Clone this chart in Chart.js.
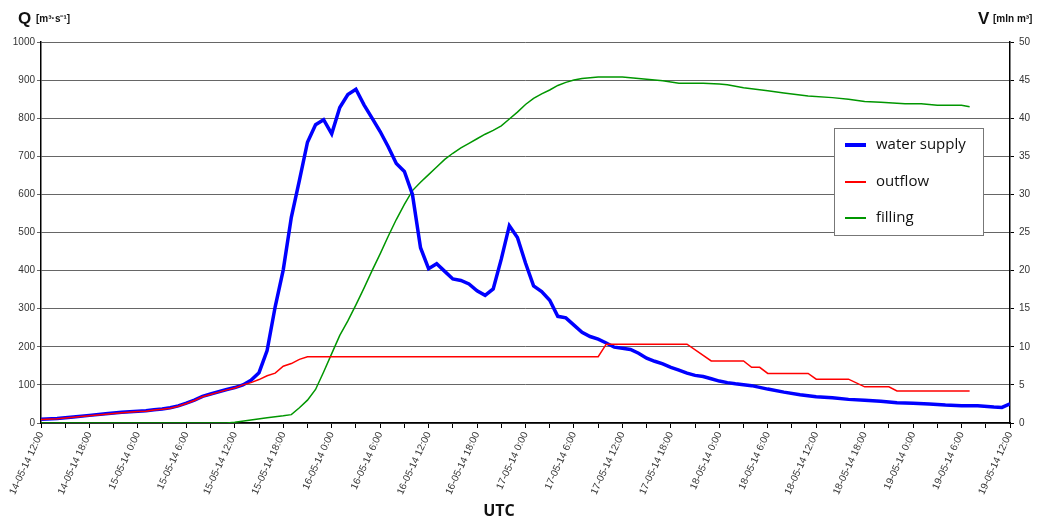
<!DOCTYPE html>
<html>
<head>
<meta charset="utf-8">
<title>Water supply, outflow and filling</title>
<script src="https://cdn.jsdelivr.net/npm/chart.js@4/dist/chart.umd.min.js"></script>
<style>
  body { margin: 0; background: #fff; }
  canvas { display: block; }
</style>
</head>
<body>
<canvas id="canvas" width="1052" height="522"></canvas>
<script>
// hours counted from 14-05-14 12:00 UTC
var tickLabels = [
  '14-05-14 12:00', '14-05-14 18:00', '15-05-14 0:00', '15-05-14 6:00',
  '15-05-14 12:00', '15-05-14 18:00', '16-05-14 0:00', '16-05-14 6:00',
  '16-05-14 12:00', '16-05-14 18:00', '17-05-14 0:00', '17-05-14 6:00',
  '17-05-14 12:00', '17-05-14 18:00', '18-05-14 0:00', '18-05-14 6:00',
  '18-05-14 12:00', '18-05-14 18:00', '19-05-14 0:00', '19-05-14 6:00',
  '19-05-14 12:00'
];

// water supply Q [m3/s]
var supplyHours = [0, 2, 4, 6, 8, 10, 12, 13, 14, 15, 16, 17, 18, 19, 20, 21, 22, 23, 24, 25, 26, 27,
  28, 29, 30, 31, 32, 33, 34, 35, 36, 37, 38, 39, 40, 41, 42, 43, 44, 45, 46, 47, 48, 49, 50,
  51, 52, 53, 54, 55, 56, 57, 58, 59, 60, 61, 62, 63, 64, 65, 66, 67, 68, 69, 70, 71, 72, 73,
  74, 75, 76, 77, 78, 79, 80, 81, 82, 83, 84, 85, 86, 88, 90, 92, 94, 96, 98, 100, 102, 104,
  106, 108, 110, 112, 114, 116, 118, 119, 120];
var supplyValues = [10, 12, 16, 20, 24, 28, 31, 32, 35, 37, 40, 45, 52, 60, 70, 76, 82, 88, 93, 100, 112, 132,
  190, 305, 402, 540, 637, 737, 783, 796, 759, 828, 862, 876, 835, 800, 765, 725, 681, 660, 600, 460, 405, 418, 398,
  378, 374, 365, 347, 335, 352, 430, 518, 487, 420, 360, 345, 322, 280, 276, 257, 238, 227, 220, 210, 199, 196, 193,
  183, 170, 162, 155, 146, 139, 131, 125, 122, 116, 110, 106, 103, 98, 89, 81, 74, 69, 66, 62, 60, 57,
  53, 52, 50, 47, 45, 45, 42, 41, 50];

// outflow Q [m3/s]
var outflowHours = [0, 2, 4, 6, 8, 10, 12, 13, 14, 15, 16, 17, 18, 19, 20, 21, 22, 23, 24, 25, 26, 27,
  28, 29, 30, 31, 32, 33, 69, 70, 80, 83, 87, 88, 89, 90, 95, 96, 100, 102, 105, 106, 115];
var outflowValues = [9, 11, 15, 19, 23, 27, 30, 31, 34, 36, 39, 44, 51, 59, 69, 75, 81, 87, 92, 100, 106, 114,
  124, 131, 149, 156, 167, 174, 174, 207, 207, 163, 163, 146, 146, 130, 130, 115, 115, 95, 95, 84, 84];

// filling V [mln m3]
var fillingHours = [0, 23, 24, 26, 28, 30, 31, 32, 33, 34, 35, 36, 37, 38, 39, 40, 41, 42, 43, 44, 45, 46,
  47, 48, 49, 50, 51, 52, 53, 54, 55, 56, 57, 58, 59, 60, 61, 62, 63, 64, 65, 66, 67, 68, 69,
  72, 74, 77, 79, 82, 84, 85, 87, 90, 92, 95, 98, 100, 102, 104, 107, 109, 111, 114, 115];
var fillingValues = [0, 0, 0.1, 0.4, 0.7, 0.95, 1.1, 2.0, 3.0, 4.4, 6.7, 9.1, 11.5, 13.4, 15.5, 17.7, 20.0, 22.2, 24.5, 26.7, 28.7, 30.5,
  31.6, 32.6, 33.6, 34.6, 35.4, 36.1, 36.7, 37.3, 37.9, 38.4, 39.0, 39.9, 40.8, 41.8, 42.6, 43.2, 43.7, 44.3, 44.7, 45.0, 45.2, 45.3, 45.4,
  45.4, 45.2, 44.9, 44.6, 44.6, 44.5, 44.4, 44.0, 43.6, 43.3, 42.9, 42.7, 42.5, 42.2, 42.1, 41.9, 41.9, 41.7, 41.7, 41.5];

function toPoints(hours, values) {
  var pts = [];
  for (var i = 0; i < hours.length; i++) {
    pts.push({ x: hours[i], y: values[i] });
  }
  return pts;
}

var FONT = '"Liberation Sans", Arial, sans-serif';

// axis headers, x title and the boxed legend
var decorations = {
  id: 'decorations',
  afterDraw: function(chart) {
    var ctx = chart.ctx;
    ctx.save();
    ctx.fillStyle = '#111';
    ctx.textBaseline = 'alphabetic';
    ctx.textAlign = 'left';
    ctx.font = 'bold 17px ' + FONT;
    ctx.fillText('Q', 18, 24);
    ctx.fillText('V', 978, 24);
    ctx.font = 'bold 10px ' + FONT;
    ctx.fillText('[m³·s⁻¹]', 36, 22);
    ctx.fillText('[mln m³]', 993, 22);

    ctx.font = 'bold 16px "Open Sans", sans-serif';
    ctx.textAlign = 'center';
    ctx.fillText('UTC', 499, 516);

    // legend
    var bx = 834, by = 128, bw = 149, bh = 107;
    ctx.fillStyle = '#fff';
    ctx.fillRect(bx, by, bw, bh);
    ctx.strokeStyle = '#777';
    ctx.lineWidth = 1;
    ctx.strokeRect(bx + 0.5, by + 0.5, bw, bh);
    ctx.textAlign = 'left';
    ctx.textBaseline = 'middle';
    ctx.font = '15px "Open Sans", sans-serif';
    var rows = [145, 182, 218];
    chart.data.datasets.forEach(function(ds, i) {
      ctx.strokeStyle = ds.borderColor;
      ctx.lineWidth = ds.legendWidth;
      ctx.beginPath();
      ctx.moveTo(845, rows[i]);
      ctx.lineTo(866, rows[i]);
      ctx.stroke();
      ctx.fillStyle = '#111';
      ctx.fillText(ds.label, 876, rows[i]);
    });
    ctx.restore();
  }
};

var ctx = document.getElementById('canvas').getContext('2d');
var chart = new Chart(ctx, {
  type: 'line',
  data: {
    datasets: [{
      label: 'water supply',
      data: toPoints(supplyHours, supplyValues),
      borderColor: 'rgb(0, 0, 255)',
      borderWidth: 3.5,
      legendWidth: 4,
      yAxisID: 'yQ',
      order: 1
    }, {
      label: 'outflow',
      data: toPoints(outflowHours, outflowValues),
      borderColor: 'rgb(255, 0, 0)',
      borderWidth: 1.5,
      legendWidth: 2,
      yAxisID: 'yQ',
      order: 0
    }, {
      label: 'filling',
      data: toPoints(fillingHours, fillingValues),
      borderColor: 'rgb(0, 150, 0)',
      borderWidth: 1.5,
      legendWidth: 2,
      yAxisID: 'yV',
      order: 2
    }]
  },
  options: {
    responsive: false,
    animation: false,
    events: [],
    elements: {
      point: { radius: 0 },
      line: { tension: 0, fill: false }
    },
    layout: { padding: { top: 42, left: 0, right: 0, bottom: 0 } },
    plugins: {
      legend: { display: false },
      tooltip: { enabled: false }
    },
    scales: {
      x: {
        type: 'linear',
        min: 0,
        max: 120,
        afterFit: function(scale) { scale.height = 99; },
        border: { color: '#000', width: 1.5 },
        grid: { drawOnChartArea: false, color: '#000', tickLength: 5 },
        ticks: {
          stepSize: 3,
          autoSkip: false,
          minRotation: 65,
          maxRotation: 65,
          padding: 2,
          color: '#333',
          font: { family: FONT, size: 10 },
          callback: function(value) {
            return value % 6 === 0 ? tickLabels[value / 6] : '';
          }
        }
      },
      yQ: {
        position: 'left',
        min: 0,
        max: 1000,
        afterFit: function(scale) { scale.width = 41; },
        border: { color: '#000', width: 1.5 },
        grid: { color: '#666', lineWidth: 1, tickLength: 4 },
        ticks: {
          stepSize: 100,
          padding: 2,
          color: '#333',
          font: { family: FONT, size: 10 },
          callback: function(value) { return String(value); }
        }
      },
      yV: {
        position: 'right',
        min: 0,
        max: 50,
        afterFit: function(scale) { scale.width = 42; },
        border: { color: '#000', width: 1.5 },
        grid: { drawOnChartArea: false, color: '#000', tickLength: 4 },
        ticks: {
          stepSize: 5,
          padding: 5,
          color: '#333',
          font: { family: FONT, size: 10 }
        }
      }
    }
  },
  plugins: [decorations]
});
</script>
</body>
</html>
